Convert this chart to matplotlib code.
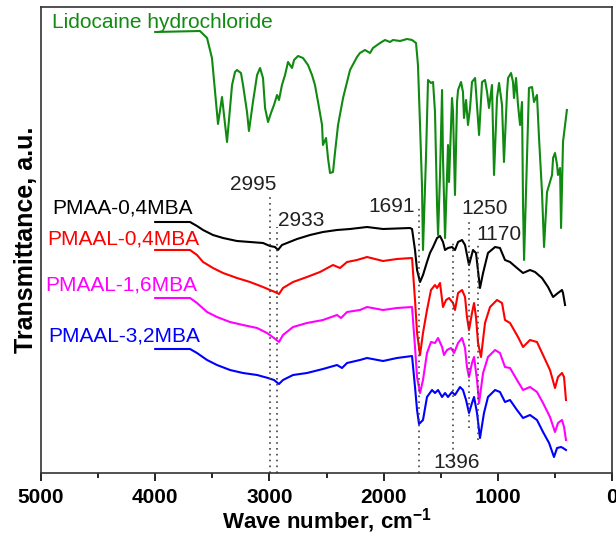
import matplotlib.pyplot as plt
from matplotlib.ticker import MultipleLocator

plt.rcParams['font.family'] = ['Liberation Sans', 'DejaVu Sans']
plt.rcParams['mathtext.fontset'] = 'custom'
plt.rcParams['mathtext.rm'] = 'Liberation Sans'
plt.rcParams['mathtext.bf'] = 'Liberation Sans:bold'

# FTIR spectra, wave number (cm-1) vs transmittance (a.u., offset per curve)
wn_lido = [4000, 3608, 3546, 3503, 3476, 3450, 3415, 3371, 3327, 3301, 3284, 3249, 3231, 3196,
           3179, 3144, 3108, 3082, 3056, 3038, 3012, 2986, 2960, 2933, 2916, 2890, 2863, 2837,
           2802, 2784, 2749, 2706, 2662, 2627, 2601, 2574, 2539, 2531, 2504, 2487, 2469, 2443,
           2425, 2399, 2355, 2294, 2233, 2207, 2163, 2119, 2093, 2031, 1988, 1944, 1918, 1856,
           1795, 1751, 1716, 1699, 1681, 1664, 1655, 1629, 1611, 1585, 1567, 1550, 1532, 1523,
           1506, 1488, 1480, 1462, 1445, 1436, 1427, 1401, 1392, 1375, 1357, 1348, 1322, 1305,
           1296, 1278, 1261, 1243, 1226, 1199, 1182, 1164, 1138, 1112, 1094, 1077, 1051, 1033,
           1007, 989, 963, 946, 919, 910, 884, 867, 858, 840, 823, 805, 788, 779, 770, 744, 727,
           700, 683, 657, 639, 613, 595, 569, 551, 525, 516, 499, 481, 473, 455, 446, 429, 411, 395]
t_lido = [441, 442, 435, 415, 381, 349, 376, 331, 388, 401, 403, 400, 388, 361,
          342, 371, 398, 405, 395, 365, 351, 360, 368, 378, 373, 388, 398, 411,
          405, 413, 417, 415, 408, 398, 388, 371, 348, 328, 335, 315, 300, 301,
          321, 348, 375, 403, 416, 420, 423, 420, 425, 430, 433, 431, 433, 432,
          434, 433, 430, 408, 348, 288, 223, 315, 393, 390, 391, 361, 268, 238,
          298, 383, 315, 235, 298, 328, 291, 375, 361, 278, 371, 383, 391, 381,
          355, 373, 348, 365, 391, 395, 368, 338, 391, 393, 381, 365, 388, 298,
          375, 390, 368, 311, 381, 395, 400, 391, 375, 395, 368, 348, 371, 268, 213, 315, 385,
          386, 371, 378, 335, 281, 226, 281, 288, 298, 315, 320, 308, 298, 305, 245, 331, 348, 363]

wn_pmaa = [4000, 3695, 3634, 3581, 3494, 3406, 3284, 3170, 3056, 2995, 2951, 2925, 2890, 2846,
           2758, 2644, 2531, 2408, 2294, 2145, 2005, 1769, 1751, 1725, 1707, 1681, 1655, 1620,
           1594, 1567, 1532, 1506, 1480, 1462, 1436, 1401, 1375, 1348, 1313, 1287, 1252, 1217,
           1191, 1156, 1129, 1086, 1024, 981, 937, 893, 832, 779, 718, 674, 613, 560, 516, 473,
           438, 429, 411]
t_pmaa = [251, 251, 247, 243, 238, 235, 232, 231, 230, 227, 226, 223, 228, 230,
          234, 238, 241, 243, 244, 246, 244, 245, 244, 223, 203, 191, 198, 211,
          220, 226, 235, 237, 231, 223, 225, 226, 223, 231, 233, 228, 208, 223,
          220, 185, 200, 220, 226, 225, 213, 211, 205, 200, 203, 201, 195, 186, 176, 180,
          183, 180, 168]

wn_04 = [4000, 3695, 3634, 3581, 3494, 3406, 3284, 3170, 3056, 2995, 2951, 2916, 2881, 2793,
         2671, 2557, 2443, 2382, 2320, 2233, 2145, 2005, 1883, 1751, 1725, 1707, 1681, 1655,
         1620, 1585, 1550, 1532, 1506, 1480, 1453, 1427, 1392, 1375, 1348, 1313, 1287, 1270,
         1252, 1226, 1208, 1191, 1173, 1147, 1112, 1068, 1007, 963, 937, 893, 823, 779, 718,
         657, 604, 543, 499, 473, 438, 420, 403]
t_04 = [223, 223, 218, 211, 205, 200, 195, 191, 186, 183, 181, 179, 185, 191,
        196, 201, 208, 205, 211, 213, 216, 212, 214, 215, 173, 140, 118, 140,
        163, 183, 188, 185, 190, 166, 173, 175, 170, 163, 180, 183, 176, 156,
        143, 160, 170, 156, 130, 116, 150, 166, 173, 170, 153, 150, 136, 126, 133,
        131, 118, 103, 85, 96, 100, 96, 73]

wn_16 = [4000, 3695, 3634, 3546, 3459, 3345, 3231, 3108, 3021, 2960, 2916, 2881, 2793, 2671,
         2531, 2408, 2373, 2320, 2207, 2145, 2005, 1883, 1751, 1725, 1707, 1681, 1655, 1620,
         1585, 1550, 1523, 1488, 1471, 1445, 1410, 1383, 1348, 1313, 1287, 1270, 1252, 1226,
         1208, 1182, 1164, 1129, 1086, 1024, 981, 937, 893, 832, 779, 718, 657, 604, 543,
         499, 473, 438, 420, 403]
t_16 = [175, 175, 170, 161, 156, 151, 148, 145, 140, 135, 131, 138, 146, 150,
        153, 158, 155, 161, 163, 166, 163, 165, 166, 126, 96, 80, 93, 120,
        131, 130, 135, 126, 118, 123, 125, 120, 130, 135, 125, 106, 96, 110,
        116, 93, 70, 100, 116, 123, 120, 106, 105, 93, 83, 86, 81, 70, 56,
        41, 50, 53, 46, 33]

wn_32 = [4000, 3695, 3634, 3546, 3459, 3345, 3231, 3108, 3012, 2960, 2916, 2881, 2793, 2671,
         2531, 2408, 2364, 2320, 2207, 2145, 2005, 1883, 1751, 1725, 1707, 1690, 1655, 1620,
         1576, 1550, 1523, 1488, 1462, 1436, 1401, 1375, 1331, 1305, 1278, 1252, 1226, 1208,
         1182, 1156, 1121, 1086, 1024, 981, 937, 893, 832, 779, 718, 657, 604, 551, 508,
         481, 446, 429, 403]
t_32 = [124, 124, 120, 113, 108, 103, 100, 98, 95, 93, 89, 93, 98, 100,
        104, 108, 105, 110, 113, 115, 112, 115, 117, 86, 63, 49, 53, 76,
        83, 80, 83, 76, 80, 76, 81, 78, 86, 83, 73, 60, 70, 76,
        60, 35, 60, 76, 83, 81, 71, 73, 63, 55, 58, 53, 41, 30, 16,
        25, 26, 25, 23]

peaks = [2995, 2933, 1691, 1396, 1250, 1170]
peak_top = [280, 246, 265, 233, 255, 230]
peak_bottom = [0, 0, 0, 6, 45, 33]
peak_text_x = [3140, 2723, 1926, 1361, 1116, 989]
peak_text_y = [288, 253, 266, 10, 265, 238]

names = ['PMAA-0,4MBA', 'PMAAL-0,4MBA', 'PMAAL-1,6MBA', 'PMAAL-3,2MBA']
name_x = [4904, 4947, 4965, 4939]
name_y = [265, 234, 188, 137]
colors = ['black', '#ff0000', '#ff00ff', '#0000ff']

fig = plt.figure(figsize=(6.16, 5.35), dpi=100)
ax = fig.add_axes([41 / 616, 62 / 535, 571 / 616, 466 / 535])

ax.plot(wn_lido, t_lido, color='#108a10', lw=1.5)
ax.plot(wn_pmaa, t_pmaa, color=colors[0], lw=1.5)
ax.plot(wn_04, t_04, color=colors[1], lw=1.5)
ax.plot(wn_16, t_16, color=colors[2], lw=1.5)
ax.plot(wn_32, t_32, color=colors[3], lw=1.5)

for i in range(len(peaks)):
    ax.plot([peaks[i], peaks[i]], [peak_bottom[i], peak_top[i]], color='#444444',
            lw=1.2, linestyle=(0, (1, 2.5)))
    ax.text(peak_text_x[i], peak_text_y[i], str(peaks[i]), fontsize=15,
            ha='center', va='center', color='#222222')

for i in range(len(names)):
    ax.text(name_x[i], name_y[i], names[i], fontsize=15, color=colors[i],
            ha='left', va='center')
ax.text(4904, 450, 'Lidocaine hydrochloride', fontsize=15, color='#108a10',
        ha='left', va='center')

ax.set_xlim(5000, 0)
ax.set_ylim(0, 466)
ax.xaxis.set_major_locator(MultipleLocator(1000))
ax.xaxis.set_minor_locator(MultipleLocator(500))
ax.tick_params(axis='x', which='major', direction='out', length=6, width=1.2, pad=5)
ax.tick_params(axis='x', which='minor', direction='out', length=3.5, width=1.2)
ax.set_yticks([])
for lab in ax.get_xticklabels():
    lab.set_fontweight('bold')
    lab.set_fontsize(15)
for s in ax.spines.values():
    s.set_color('#333333')
    s.set_linewidth(1.2)

ax.set_xlabel(r'Wave number, cm$^{\mathbf{-1}}$', fontsize=16, fontweight='bold', labelpad=-1)
ax.set_ylabel('Transmittance, a.u.', fontsize=18, fontweight='bold', labelpad=2)

fig.savefig('out.png', dpi=100)
